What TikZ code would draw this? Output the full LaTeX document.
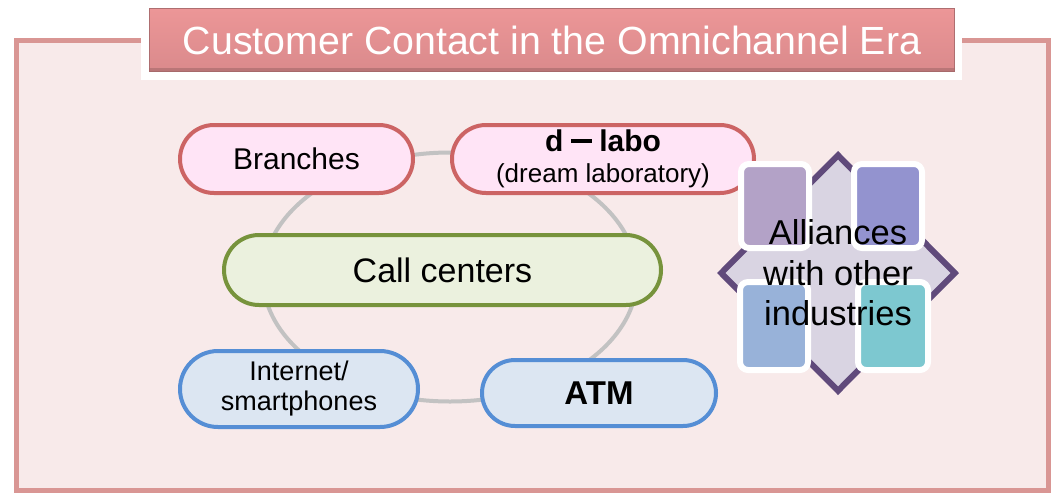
\documentclass[tikz,border=0pt]{standalone}
\usepackage{fontspec}
\setmainfont{Liberation Sans}
\usetikzlibrary{shapes.misc,shapes.geometric}
\definecolor{cadre}{HTML}{D99694}
\definecolor{fond}{HTML}{F8EAEA}
\definecolor{titrehaut}{HTML}{EC9697}
\definecolor{titrebas}{HTML}{DA8A8C}
\definecolor{rose}{HTML}{CC6464}
\definecolor{rosefond}{HTML}{FFE4F6}
\definecolor{vert}{HTML}{77933C}
\definecolor{vertfond}{HTML}{EBF1DE}
\definecolor{bleu}{HTML}{558ED5}
\definecolor{bleufond}{HTML}{DCE6F2}
\definecolor{anneau}{HTML}{C2C2C2}
\definecolor{violet}{HTML}{604A7B}
\definecolor{lavande}{HTML}{D9D4E2}
\definecolor{carreA}{HTML}{B3A2C7}
\definecolor{carreB}{HTML}{9393CF}
\definecolor{carreC}{HTML}{98B2D9}
\definecolor{carreD}{HTML}{7DC8D0}
\begin{document}
\begin{tikzpicture}[x=1pt,y=-1pt]
		\useasboundingbox (0,0) rectangle (1056,493);
		% cadre
		\draw[cadre, line width=5pt, fill=fond] (16,40) rectangle (1048,490);
		\fill[white] (141,3) rectangle (962,80);
		\node[top color=titrehaut, bottom color=titrebas, draw=titrebas!80!black, line width=1pt, minimum width=805pt, minimum height=63pt, text=white, font=\fontsize{39.3}{44}\selectfont] (T) at (552,40) {Customer Contact in the Omnichannel Era};
		\fill[titrebas!75!black, opacity=0.6] (T.south west) rectangle ([yshift=4pt]T.south east);
		% anneau
		\coordinate (R) at (450,277);
		\draw[anneau, line width=4pt] (R) ellipse [x radius=187, y radius=124.5];
		\begin{scope}[every node/.style={rounded rectangle, line width=4pt, align=center, inner sep=0pt}]
			\node[draw=rose, fill=rosefond, minimum width=233pt, minimum height=68pt, font=\fontsize{30}{31}\selectfont] (B) at (296.5,159) {Branches};
			\node[draw=rose, fill=rosefond, minimum width=302pt, minimum height=68pt, font=\fontsize{26}{31}\selectfont] (D) at (603,159) {{\bfseries\fontsize{30}{31}\selectfont d\kern8pt\rule[9pt]{21pt}{3.5pt}\kern7pt labo}\\(dream laboratory)};
			\node[draw=vert, fill=vertfond, minimum width=437pt, minimum height=70pt, font=\fontsize{34}{38}\selectfont] (C) at (442.5,270) {Call centers};
			\node[draw=bleu, fill=bleufond, minimum width=238pt, minimum height=76pt, font=\fontsize{27}{30}\selectfont] (I) at (299,389) {Internet/\\smartphones};
			\node[draw=bleu, fill=bleufond, minimum width=234pt, minimum height=66pt, font=\bfseries\fontsize{33}{36}\selectfont] (A) at (599,393) {ATM};
		\end{scope}
		% alliances
		\node[diamond, draw=violet, fill=lavande, line width=6pt, minimum width=236pt, minimum height=238pt, inner sep=0pt] (H) at (838,273) {};
		\begin{scope}[every node/.style={draw=white, line width=6pt, rounded corners=8pt, minimum width=68pt, minimum height=84pt}]
			\node[fill=carreA] (H1) at (775,206) {};
			\node[fill=carreB] (H2) at (888,206) {};
			\node[fill=carreC, minimum height=88pt] (H3) at (774,326) {};
			\node[fill=carreD, minimum width=70pt, minimum height=88pt] (H4) at (893,326) {};
		\end{scope}
		\node[align=center, font=\fontsize{34.5}{40.5}\selectfont] (L) at (H) {Alliances\\with other\\industries};
	\end{tikzpicture}
\end{document}
